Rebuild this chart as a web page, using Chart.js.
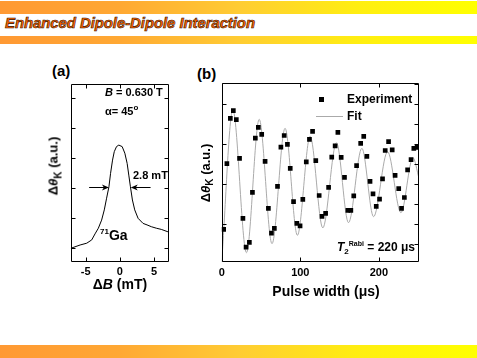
<!doctype html>
<html lang="en">
<head>
<meta charset="UTF-8">
<title>Enhanced Dipole-Dipole Interaction</title>
<script src="https://cdn.jsdelivr.net/npm/chart.js"></script>
<style>
  body { margin: 0; width: 477px; height: 358px; background: #fff; position: relative; overflow: hidden;
         font-family: "Liberation Sans", Arial, sans-serif; font-weight: bold; color: #000; }
  .band { position: absolute; left: 0; width: 477px;
          background: linear-gradient(to right, #ff9933 0%, #ffa833 25%, #ffcc33 50%, #ffee11 75%, #ffff00 100%); }
  .abs { position: absolute; white-space: nowrap; line-height: 1; }
  .title { left: 5px; top: 15px; font-size: 15px; font-style: italic; color: #ff6600;
           -webkit-text-stroke: 0.6px #331100; letter-spacing: -0.1px; }
  .panel { font-size: 15px; }
  .ytitle { transform: translate(-50%, -50%) rotate(-90deg); font-size: 13px; }
  .xtitle { transform: translate(-50%, -50%); font-size: 14px; }
  .note { font-size: 11px; }
  sub, sup { line-height: 0; }
  canvas { position: absolute; }
</style>
</head>
<body>
<div class="band" style="top:1px;height:13px"></div>
<div class="abs title">Enhanced Dipole-Dipole Interaction</div>
<div class="band" style="top:36px;height:8px"></div>
<div class="band" style="top:345px;height:13px"></div>

<div class="abs panel" style="left:52px;top:63px">(a)</div>
<div class="abs panel" style="left:197px;top:66px">(b)</div>

<canvas id="lineShape" width="120" height="215" style="left:60px;top:78px"></canvas>
<canvas id="rabi" width="220" height="215" style="left:210px;top:78px"></canvas>

<div class="abs ytitle" style="left:53px;top:166px">&Delta;<i>&theta;</i><sub style="font-size:10px">K</sub> (a.u.)</div>
<div class="abs xtitle" style="left:120px;top:284px">&Delta;<i>B</i> (mT)</div>
<div class="abs note" style="left:105px;top:87px"><i>B</i> = 0.630 T</div>
<div class="abs note" style="left:105px;top:106px">&alpha;= 45<sup style="font-size:8px">o</sup></div>
<div class="abs note" style="left:133px;top:170px">2.8 mT</div>
<div class="abs" style="left:100px;top:228px;font-size:14px"><sup style="font-size:8px">71</sup>Ga</div>

<div class="abs ytitle" style="left:205px;top:173px">&Delta;<i>&theta;</i><sub style="font-size:10px">K</sub> (a.u.)</div>
<div class="abs xtitle" style="left:326px;top:291px">Pulse width (&mu;s)</div>
<div class="abs" style="left:319px;top:97px;width:5px;height:5px;background:#000"></div>
<div class="abs note" style="left:347px;top:93px;font-size:12px">Experiment</div>
<div class="abs" style="left:316px;top:116px;width:27px;height:1px;background:#aaa"></div>
<div class="abs note" style="left:347px;top:110px;font-size:12px">Fit</div>
<div class="abs note" style="left:337px;top:241px;font-size:12px"><i>T</i><sub style="font-size:8px">2</sub><sup style="font-size:7px">Rabi</sup> = 220 &mu;s</div>

<script>
  // (a) Kerr rotation line shape vs field offset
  const fieldMT = [-7.18, -5.82, -4.85, -4.12, -3.64, -3.15, -2.67, -2.28, -1.94, -1.60, -1.36, -1.07, -0.82,
    -0.49, -0.15, 0.34, 0.73, 1.07, 1.31, 1.55, 1.84, 2.18, 2.67, 3.40, 3.98, 4.61, 5.34, 6.07, 7.04, 7.18];
  const kerrA = [-0.02, 0.09, 0.15, 0.26, 0.46, 0.65, 0.92, 1.26, 1.65, 2.03, 2.48, 2.92, 3.20,
    3.37, 3.42, 3.37, 3.15, 2.81, 2.42, 2.03, 1.59, 1.26, 0.98, 0.81, 0.76, 0.70, 0.65, 0.61, 0.53, 0.52];
  const fieldTicks = [-5, 0, 5];
  const fwhmY = 2.03;
  const fwhmArrows = [[-4.5, -1.6], [4.5, 1.6]];

  // (b) Rabi oscillation: experiment points and fit
  const pulseUs = [2.5, 6.6, 11.0, 14.8, 18.6, 22.7, 27.0, 31.0, 35.2, 39.1, 42.8, 46.6, 50.9, 55.2, 59.4,
    63.3, 67.0, 71.0, 75.3, 79.5, 83.6, 87.2, 91.4, 95.6, 99.7, 103.2, 107.6, 111.6, 115.6, 119.7, 124.0,
    127.6, 132.2, 136.0, 140.0, 144.3, 147.8, 152.0, 156.2, 160.5, 164.3, 168.0, 171.6, 176.8, 180.7, 184.7,
    188.7, 192.5, 196.6, 200.8, 204.6, 208.0, 212.3, 216.9, 220.6, 225.2, 228.8, 232.4, 236.5, 240.9, 244.4, 248.6];
  const kerrB = [1.75, 5.03, 7.30, 7.68, 7.23, 5.30, 2.30, 0.86, 1.10, 3.60, 6.31, 6.85, 6.50, 5.15, 2.80,
    1.56, 1.80, 3.90, 5.86, 6.44, 6.00, 4.80, 3.13, 2.05, 1.92, 3.25, 5.12, 6.25, 6.65, 5.18, 3.44,
    2.40, 2.55, 3.85, 5.36, 5.92, 6.60, 5.35, 4.35, 2.70, 2.70, 3.42, 4.93, 6.05, 6.40, 5.40,
    4.15, 3.52, 2.90, 3.26, 4.27, 5.69, 6.13, 5.72, 4.45, 3.78, 2.80, 3.34, 4.72, 5.23, 5.80, 5.85];
  const fitUs = [0, 14.2, 31.5, 47.7, 64.0, 80.6, 96.3, 112.5, 128.6, 146.0, 161.3, 178.3, 193.2, 211.0, 228.0, 243.3, 251];
  const fitB = [0.10, 7.72, 0.58, 7.25, 1.03, 6.80, 1.45, 6.40, 1.82, 6.08, 2.08, 5.80, 2.38, 5.63, 2.58, 5.33, 4.30];
  const pulseTicks = [0, 100, 200];

  const pts = (xs, ys) => xs.map((x, i) => ({x, y: ys[i]}));
  const tickFont = {family: '"Liberation Sans", Arial, sans-serif', size: 11, weight: 'bold'};
  const noGrid = {display: false, drawTicks: false, tickLength: 0};

  // box + inward ticks on all sides
  const frame = {
    id: 'frame',
    afterDatasetsDraw(chart, args, o) {
      const {ctx, chartArea: a, scales: {x, y}} = chart;
      const L = Math.round(a.left) + 0.5, R = Math.round(a.right) - 0.5;
      const T = Math.round(a.top) + 0.5, B = Math.round(a.bottom) - 0.5;
      ctx.save();
      ctx.strokeStyle = '#000';
      ctx.lineWidth = 1;
      ctx.beginPath();
      ctx.rect(L, T, R - L, B - T);
      o.xTicks.forEach(v => {
        const p = Math.round(x.getPixelForValue(v)) + 0.5;
        ctx.moveTo(p, B); ctx.lineTo(p, B - 4);
        ctx.moveTo(p, T); ctx.lineTo(p, T + 4);
      });
      o.yLeft.forEach(v => {
        const p = Math.round(y.getPixelForValue(v)) + 0.5;
        ctx.moveTo(L, p); ctx.lineTo(L + 4, p);
      });
      o.yRight.forEach(v => {
        const p = Math.round(y.getPixelForValue(v)) + 0.5;
        ctx.moveTo(R, p); ctx.lineTo(R - 4, p);
      });
      ctx.stroke();
      ctx.restore();
    }
  };

  const arrows = {
    id: 'arrows',
    afterDatasetsDraw(chart) {
      if (chart.canvas.id !== 'lineShape') return;
      const {ctx, scales: {x, y}} = chart;
      const py = Math.round(y.getPixelForValue(fwhmY)) + 0.5;
      ctx.save();
      ctx.strokeStyle = '#000';
      ctx.fillStyle = '#000';
      ctx.lineWidth = 1;
      fwhmArrows.forEach(([from, to]) => {
        const x0 = x.getPixelForValue(from), x1 = x.getPixelForValue(to);
        const d = Math.sign(x1 - x0);
        ctx.beginPath();
        ctx.moveTo(x0, py); ctx.lineTo(x1 - d * 4, py);
        ctx.stroke();
        ctx.beginPath();
        ctx.moveTo(x1, py); ctx.lineTo(x1 - d * 7, py - 3); ctx.lineTo(x1 - d * 5, py); ctx.lineTo(x1 - d * 7, py + 3);
        ctx.closePath();
        ctx.fill();
      });
      ctx.restore();
    }
  };

  new Chart(document.getElementById('lineShape'), {
    type: 'line',
    data: {
      datasets: [{
        data: pts(fieldMT, kerrA),
        borderColor: '#000',
        borderWidth: 1,
        pointRadius: 0,
        tension: 0
      }]
    },
    options: {
      responsive: false,
      animation: false,
      layout: {padding: {top: 6, right: 11, left: 0, bottom: 0}},
      plugins: {
        legend: {display: false},
        tooltip: {enabled: false},
        frame: {xTicks: fieldTicks, yLeft: [0, 1, 2, 3, 4, 5], yRight: [0, 1, 2, 3, 4, 5]}
      },
      scales: {
        x: {
          type: 'linear', min: -7.2, max: 7.2,
          grid: noGrid, border: {display: false},
          afterFit: s => { s.height = 31; },
          afterBuildTicks: s => { s.ticks = fieldTicks.map(value => ({value})); },
          ticks: {color: '#000', font: tickFont, padding: 3, maxRotation: 0}
        },
        y: {
          min: -0.477, max: 5.457,
          grid: noGrid, border: {display: false},
          afterFit: s => { s.width = 10.7; },
          ticks: {display: false}
        }
      }
    },
    plugins: [frame, arrows]
  });

  new Chart(document.getElementById('rabi'), {
    type: 'line',
    data: {
      datasets: [{
        label: 'Experiment',
        data: pts(pulseUs, kerrB),
        showLine: false,
        pointStyle: 'rect',
        pointRadius: 3.3,
        backgroundColor: '#000',
        borderColor: '#000',
        borderWidth: 0
      }, {
        label: 'Fit',
        data: pts(fitUs, fitB),
        borderColor: '#aaa',
        borderWidth: 1,
        pointRadius: 0,
        cubicInterpolationMode: 'monotone'
      }]
    },
    options: {
      responsive: false,
      animation: false,
      layout: {padding: {top: 5.3, right: 11, left: 0, bottom: 0}},
      plugins: {
        legend: {display: false},
        tooltip: {enabled: false},
        frame: {xTicks: pulseTicks, yLeft: [2, 4, 6, 8], yRight: [1, 2, 3, 4, 5, 6, 7, 8, 9]}
      },
      scales: {
        x: {
          type: 'linear', min: 0, max: 251,
          grid: noGrid, border: {display: false},
          afterFit: s => { s.height = 30.7; },
          afterBuildTicks: s => { s.ticks = pulseTicks.map(value => ({value})); },
          ticks: {color: '#000', font: tickFont, padding: 4, maxRotation: 0}
        },
        y: {
          min: 0.1, max: 9.05,
          grid: noGrid, border: {display: false},
          afterFit: s => { s.width = 11.7; },
          ticks: {display: false}
        }
      }
    },
    plugins: [frame]
  });
</script>
</body>
</html>
